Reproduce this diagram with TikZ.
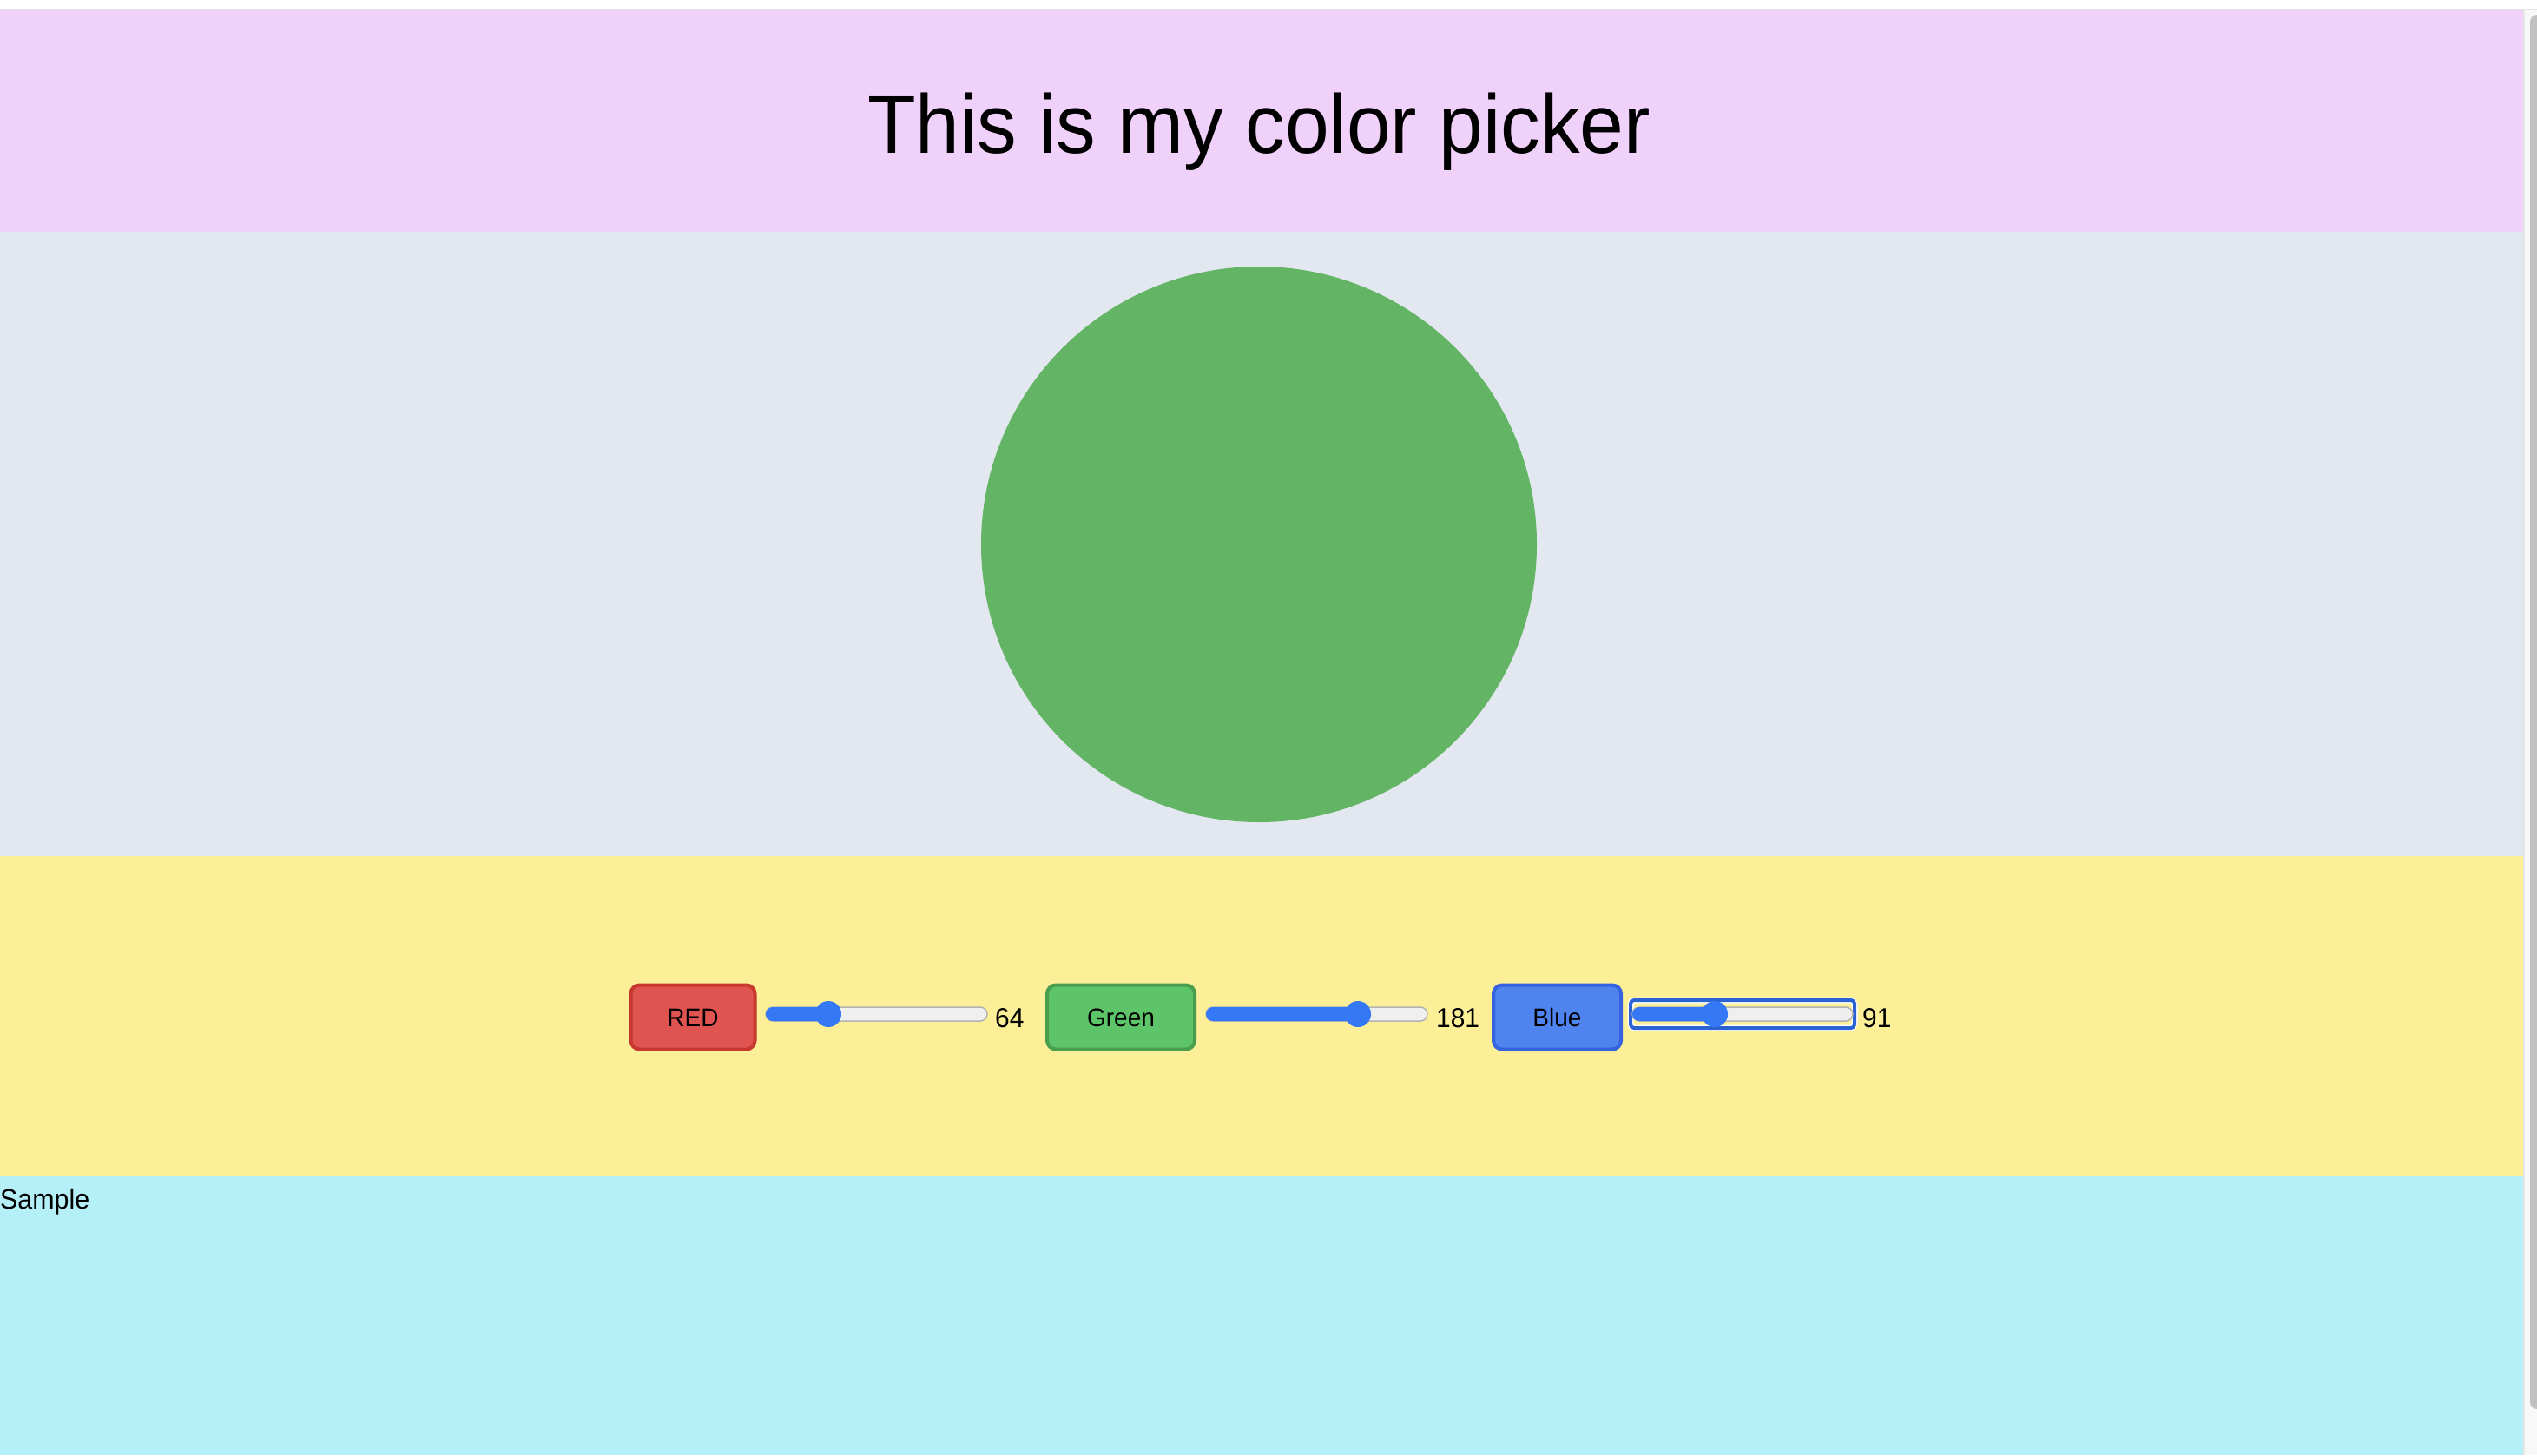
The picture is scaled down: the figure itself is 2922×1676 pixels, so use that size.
\documentclass[tikz,border=0pt]{standalone}
\usepackage{fontspec}
\setmainfont[FakeStretch=0.95]{Liberation Sans}
\definecolor{topline}{HTML}{E2E2E2}
\definecolor{headbg}{HTML}{F0D1FA}
\definecolor{circlebg}{HTML}{E3E8F0}
\definecolor{controlbg}{HTML}{FCEF97}
\definecolor{samplebg}{HTML}{B5F0F8}
\definecolor{dotgreen}{HTML}{63B465}
\definecolor{redfill}{HTML}{DF5350}
\definecolor{redline}{HTML}{C8382F}
\definecolor{greenfill}{HTML}{5EC46A}
\definecolor{greenline}{HTML}{4A9E50}
\definecolor{bluefill}{HTML}{4F83ED}
\definecolor{blueline}{HTML}{3563E0}
\definecolor{sliderblue}{HTML}{3478F6}
\definecolor{trackfill}{HTML}{EFEFEF}
\definecolor{trackline}{HTML}{B3B3B3}
\definecolor{focusblue}{HTML}{2C63D2}
\definecolor{barline}{HTML}{E6E6E6}
\definecolor{bartrack}{HTML}{F8F8F8}
\definecolor{barthumb}{HTML}{C1C1C1}
\begin{document}
\begin{tikzpicture}[x=1pt,y=-1pt,
    btn/.style={draw,rounded corners=10pt,line width=4pt,minimum height=74pt,
      text height=21pt,text depth=0pt,inner sep=0pt,font=\fontsize{29.5}{34}\selectfont},
    val/.style={anchor=base west,inner sep=0pt,font=\fontsize{31.5}{36}\selectfont},
    track/.style={fill=trackfill,draw=trackline,line width=1.5pt,rounded corners=8pt},
    fillbar/.style={fill=sliderblue,rounded corners=8pt},
    knob/.style={circle,fill=sliderblue,minimum size=30pt,inner sep=0pt}]
      \useasboundingbox (0,0) rectangle (2922,1676);
      \clip (0,0) rectangle (2922,1676);
      \fill[white] (0,0) rectangle (2922,1676);
      \fill[topline] (0,10) rectangle (2922,12);
      \fill[headbg] (0,12) rectangle (2906,267);
      \fill[circlebg] (0,267) rectangle (2906,986);
      \fill[controlbg] (0,986) rectangle (2906,1355);
      \fill[samplebg] (0,1355) rectangle (2906,1676);
      \fill[barline] (2906,12) rectangle (2908,1676);
      \fill[bartrack] (2908,12) rectangle (2922,1676);
      \fill[barthumb,rounded corners=8pt] (2914,17) rectangle (2932,1623);
      \node[anchor=base,inner sep=0pt,font=\fontsize{96}{110}\selectfont] (title) at (1450,176) {This is my color picker};
      \node[circle,fill=dotgreen,minimum size=640pt,inner sep=0pt] (dot) at (1450,627) {};
      \node[btn,fill=redfill,draw=redline,minimum width=143pt] (red) at (798,1171.5) {RED};
      \draw[track] (882,1160) rectangle (1137,1176);
      \fill[fillbar] (882,1160) rectangle (954,1176);
      \node[knob] (knobR) at (954,1168) {};
      \node[val] (valR) at (1146,1183) {64};
      \node[btn,fill=greenfill,draw=greenline,minimum width=170pt] (green) at (1291,1171.5) {Green};
      \draw[track] (1389,1160) rectangle (1644,1176);
      \fill[fillbar] (1389,1160) rectangle (1564,1176);
      \node[knob] (knobG) at (1564,1168) {};
      \node[val] (valG) at (1654,1183) {181};
      \node[btn,fill=bluefill,draw=blueline,minimum width=147pt] (blue) at (1793.5,1171.5) {Blue};
      \draw[white,line width=7pt,rounded corners=5pt] (1878,1152) rectangle (2136,1184);
      \draw[focusblue,line width=4pt,rounded corners=4pt] (1878,1152) rectangle (2136,1184);
      \draw[track] (1880,1160) rectangle (2134,1176);
      \fill[fillbar] (1880,1160) rectangle (1975,1176);
      \node[knob] (knobB) at (1975,1168) {};
      \node[val] (valB) at (2145,1183) {91};
      \node[anchor=base west,inner sep=0pt,font=\fontsize{32}{38}\selectfont] (sample) at (0,1392) {Sample};
\end{tikzpicture}
\end{document}
